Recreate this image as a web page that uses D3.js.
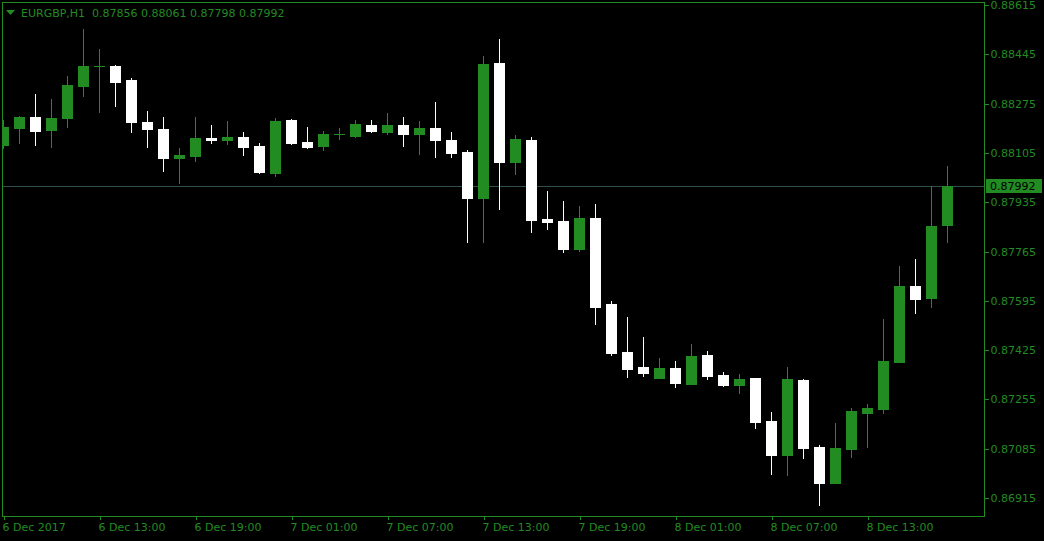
<!DOCTYPE html>
<html><head><meta charset="utf-8">
<script src="https://cdn.jsdelivr.net/npm/d3@7"></script>
<style>html,body{margin:0;padding:0;background:#000;overflow:hidden}svg{display:block}</style>
</head><body>
<svg id="c" width="1044" height="541"></svg>
<script>
const symbol = "EURGBP,H1";
const opens = [0.88132,0.88191,0.88229,0.88184,0.88225,0.88336,0.88404,0.88405,0.88356,0.88212,
0.88187,0.88087,0.88094,0.88156,0.88149,0.88160,0.88129,0.88036,0.88218,0.88143,
0.88129,0.88169,0.88163,0.88201,0.88177,0.88201,0.88170,0.88191,0.88149,0.88108,
0.87950,0.88415,0.88074,0.88149,0.87877,0.87870,0.87774,0.87881,0.87584,0.87419,
0.87367,0.87329,0.87363,0.87308,0.87408,0.87339,0.87305,0.87329,0.87181,0.87063,
0.87322,0.87091,0.86967,0.87084,0.87208,0.87222,0.87384,0.87646,0.87605,0.87856];
const highs = [0.88218,0.88232,0.88308,0.88291,0.88370,0.88532,0.88463,0.88408,0.88363,0.88250,
0.88229,0.88122,0.88229,0.88201,0.88215,0.88177,0.88139,0.88225,0.88222,0.88194,
0.88181,0.88191,0.88218,0.88218,0.88243,0.88229,0.88215,0.88281,0.88177,0.88115,
0.88439,0.88498,0.88167,0.88160,0.87974,0.87939,0.87922,0.87929,0.87594,0.87539,
0.87470,0.87398,0.87387,0.87446,0.87422,0.87350,0.87343,0.87329,0.87212,0.87367,
0.87325,0.87098,0.87174,0.87225,0.87239,0.87532,0.87715,0.87739,0.87991,0.88061];
const lows = [0.88122,0.88139,0.88132,0.88125,0.88194,0.88301,0.88246,0.88267,0.88177,0.88125,
0.88043,0.88001,0.88077,0.88139,0.88136,0.88098,0.88036,0.88025,0.88136,0.88122,
0.88115,0.88153,0.88160,0.88177,0.88170,0.88129,0.88101,0.88091,0.88091,0.87798,
0.87798,0.87912,0.88032,0.87832,0.87843,0.87763,0.87767,0.87515,0.87408,0.87332,
0.87336,0.87329,0.87298,0.87308,0.87325,0.87301,0.87277,0.87156,0.86998,0.86994,
0.87053,0.86891,0.86967,0.87056,0.87091,0.87208,0.87384,0.87553,0.87574,0.87798];
const closes = [0.88194,0.88229,0.88181,0.88225,0.88339,0.88405,0.88406,0.88350,0.88212,0.88187,
0.88087,0.88098,0.88156,0.88149,0.88160,0.88125,0.88039,0.88215,0.88139,0.88125,
0.88170,0.88171,0.88205,0.88181,0.88201,0.88170,0.88191,0.88149,0.88105,0.87950,
0.88412,0.88074,0.88153,0.87874,0.87867,0.87774,0.87881,0.87574,0.87415,0.87360,
0.87346,0.87363,0.87312,0.87405,0.87336,0.87305,0.87325,0.87177,0.87063,0.87325,
0.87087,0.86967,0.87087,0.87215,0.87225,0.87387,0.87646,0.87601,0.87853,0.87992];
const yTickValues = [0.88615,0.88445,0.88275,0.88105,0.87935,0.87765,0.87595,0.87425,0.87255,0.87085,0.86915];
const xTickIndex = [0,6,12,18,24,30,36,42,48,54];
const xTickLabels = ["6 Dec 2017","6 Dec 13:00","6 Dec 19:00","7 Dec 01:00","7 Dec 07:00","7 Dec 13:00","7 Dec 19:00","8 Dec 01:00","8 Dec 07:00","8 Dec 13:00"];

const GREEN = "#228B22", WHITE = "#ffffff", LINE = "#2F4F4F";
const FONT = "DejaVu Sans, sans-serif";
const last = opens.length - 1;
const lastPrice = closes[last];

const svg = d3.select("#c");
svg.append("rect").attr("width",1044).attr("height",541).attr("fill","#000");

const x = d3.scaleLinear().domain([0,1]).range([3.5,19.5]);
const y = d3.scaleLinear().domain([0.86915,0.88615]).range([498,5]);

const L = 2.5, R = 984.5, T = 2.5, B = 516.5;

svg.append("defs").append("clipPath").attr("id","plot")
  .append("rect").attr("x",3).attr("y",3).attr("width",R-3).attr("height",B-3);

// price line
svg.append("line").attr("x1",L).attr("x2",R)
  .attr("y1",Math.round(y(lastPrice))+0.5).attr("y2",Math.round(y(lastPrice))+0.5)
  .attr("stroke",LINE).attr("stroke-width",1).attr("shape-rendering","crispEdges");

const data = opens.map((o,i)=>({i,o,h:highs[i],l:lows[i],c:closes[i]}));
const g = svg.append("g").attr("clip-path","url(#plot)").attr("shape-rendering","crispEdges");
const col = d => d.c >= d.o ? GREEN : WHITE;

g.selectAll(".wick").data(data).join("line")
  .attr("x1",d=>x(d.i)).attr("x2",d=>x(d.i))
  .attr("y1",d=>Math.round(y(d.h))).attr("y2",d=>Math.round(y(d.l))+1)
  .attr("stroke",col).attr("stroke-width",1);

g.selectAll(".body").data(data).join("rect")
  .attr("x",d=>x(d.i)-5.5).attr("width",11)
  .attr("y",d=>Math.round(y(Math.max(d.o,d.c))))
  .attr("height",d=>Math.max(1,Math.round(y(Math.min(d.o,d.c)))-Math.round(y(Math.max(d.o,d.c)))+1))
  .attr("fill",col);

// frame
svg.append("rect").attr("x",L).attr("y",T).attr("width",R-L).attr("height",B-T)
  .attr("fill","none").attr("stroke",GREEN).attr("stroke-width",1).attr("shape-rendering","crispEdges");

// right axis
const ya = svg.append("g").attr("transform",`translate(${R},0)`)
  .call(d3.axisRight(y).tickValues(yTickValues).tickFormat(d3.format(".5f")).tickSize(4).tickPadding(2));
ya.select(".domain").remove();
ya.selectAll("line").attr("stroke",GREEN).attr("shape-rendering","crispEdges");
ya.selectAll("text").attr("fill",GREEN).style("font-family",FONT).style("font-size","11px");

// x axis
const xa = svg.append("g").attr("transform",`translate(0,${B})`)
  .call(d3.axisBottom(x).tickValues(xTickIndex).tickFormat((d,i)=>xTickLabels[i]).tickSize(3).tickPadding(4));
xa.select(".domain").remove();
xa.selectAll("line").attr("stroke",GREEN).attr("shape-rendering","crispEdges");
xa.selectAll("text").attr("fill",GREEN).attr("text-anchor","start").attr("dx","-1.5")
  .style("font-family",FONT).style("font-size","11px");

// last price label
const py = y(lastPrice);
svg.append("rect").attr("x",986).attr("y",Math.round(py)-7).attr("width",56).attr("height",14).attr("fill",GREEN);
svg.append("text").attr("x",990).attr("y",py).attr("dy","0.35em").attr("fill","#000")
  .style("font-family",FONT).style("font-size","11px").text(d3.format(".5f")(lastPrice));

// title
svg.append("path").attr("d","M6,10L15,10L10.5,15Z").attr("fill",GREEN);
svg.append("text").attr("x",21).attr("y",17).attr("fill",GREEN)
  .style("font-family",FONT).style("font-size","11px").text(symbol);
const f5 = d3.format(".5f");
svg.append("text").attr("x",92).attr("y",17).attr("fill",GREEN)
  .style("font-family",FONT).style("font-size","11px")
  .text([opens[last],highs[last],lows[last],closes[last]].map(f5).join(" "));
</script>
</body></html>
